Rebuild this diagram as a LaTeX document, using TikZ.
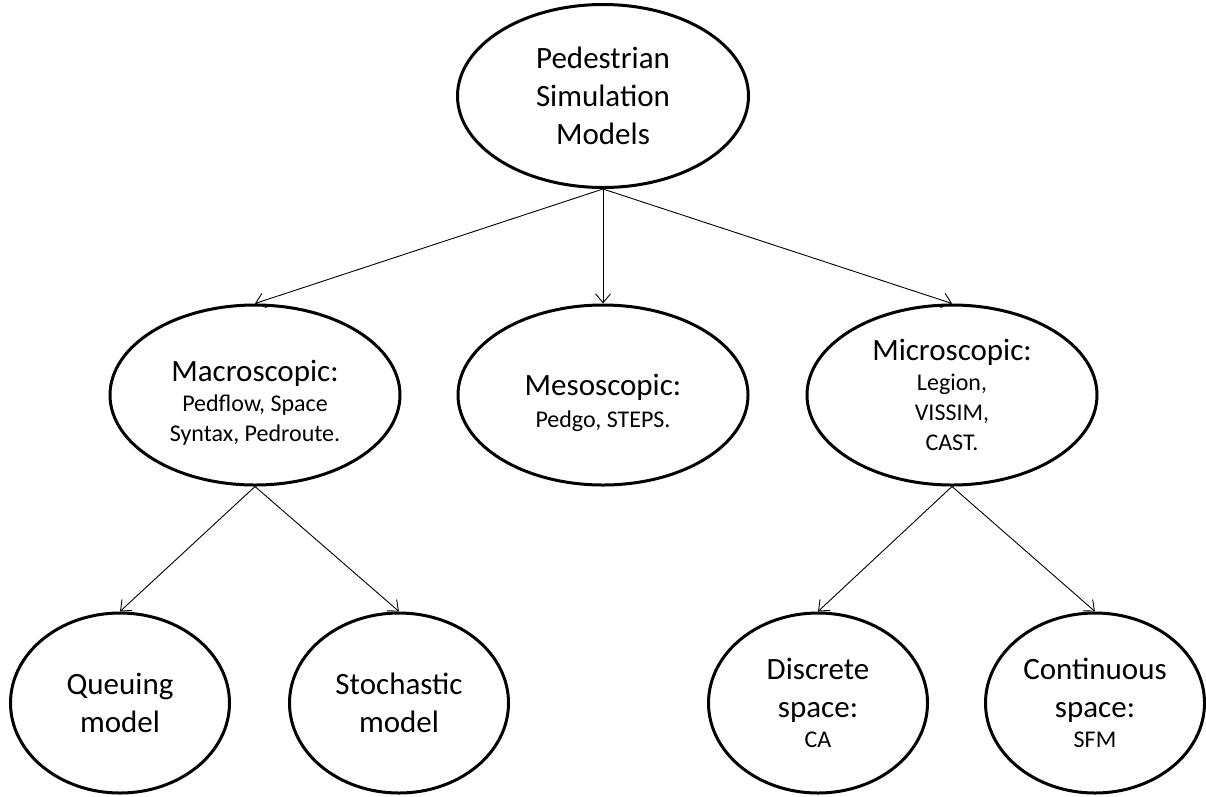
\documentclass[tikz,border=0pt]{standalone}
\usepackage{fontspec}
\setmainfont{Carlito}
\usetikzlibrary{shapes.geometric,arrows.meta}
\newcommand\fbig{\fontsize{31}{38}\selectfont}
\newcommand\fsml{\fontsize{24}{30}\selectfont}
\begin{document}
\begin{tikzpicture}[x=1pt,y=-1pt,
  oval/.style={ellipse,draw,line width=3pt,inner sep=0pt,align=center},
  topoval/.style={oval,minimum width=291pt,minimum height=183pt,font=\fbig},
  midoval/.style={oval,minimum width=290pt,minimum height=180pt,font=\fsml},
  lowoval/.style={oval,minimum width=219pt,minimum height=180pt,font=\fbig},
  link/.style={line width=0.9pt,-{Straight Barb[length=9pt,width=15pt,line width=0.9pt]}}]
\useasboundingbox (0,0) rectangle (1206,796);
\node[topoval] (root) at (603,96) {Pedestrian\\Simulation\\Models};
\node[midoval] (macro) at (255,395) {{\fbig\rule{0pt}{36pt}Macroscopic:}\\Pedflow, Space\\Syntax, Pedroute.};
\node[midoval] (meso) at (603,395) {{\fbig\rule{0pt}{38pt}Mesoscopic:}\\[2pt]Pedgo, STEPS.};
\node[midoval] (micro) at (952,395) {{\fbig Microscopic:}\\Legion,\\VISSIM,\\CAST.};
\node[lowoval] (queue) at (120,703) {Queuing\\model};
\node[lowoval] (stoch) at (399,703) {Stochastic\\model};
\node[lowoval] (disc) at (818,703) {Discrete\\space:\\[-8pt]{\fsml CA}};
\node[lowoval] (cont) at (1095,703) {Continuous\\space:\\[-8pt]{\fsml SFM}};
\draw[link] (root.south) -- (macro.north);
\draw[link] (root.south) -- (meso.north);
\draw[link] (root.south) -- (micro.north);
\draw[link] (macro.south) -- (queue.north);
\draw[link] (macro.south) -- (stoch.north);
\draw[link] (micro.south) -- (disc.north);
\draw[link] (micro.south) -- (cont.north);
\end{tikzpicture}
\end{document}
